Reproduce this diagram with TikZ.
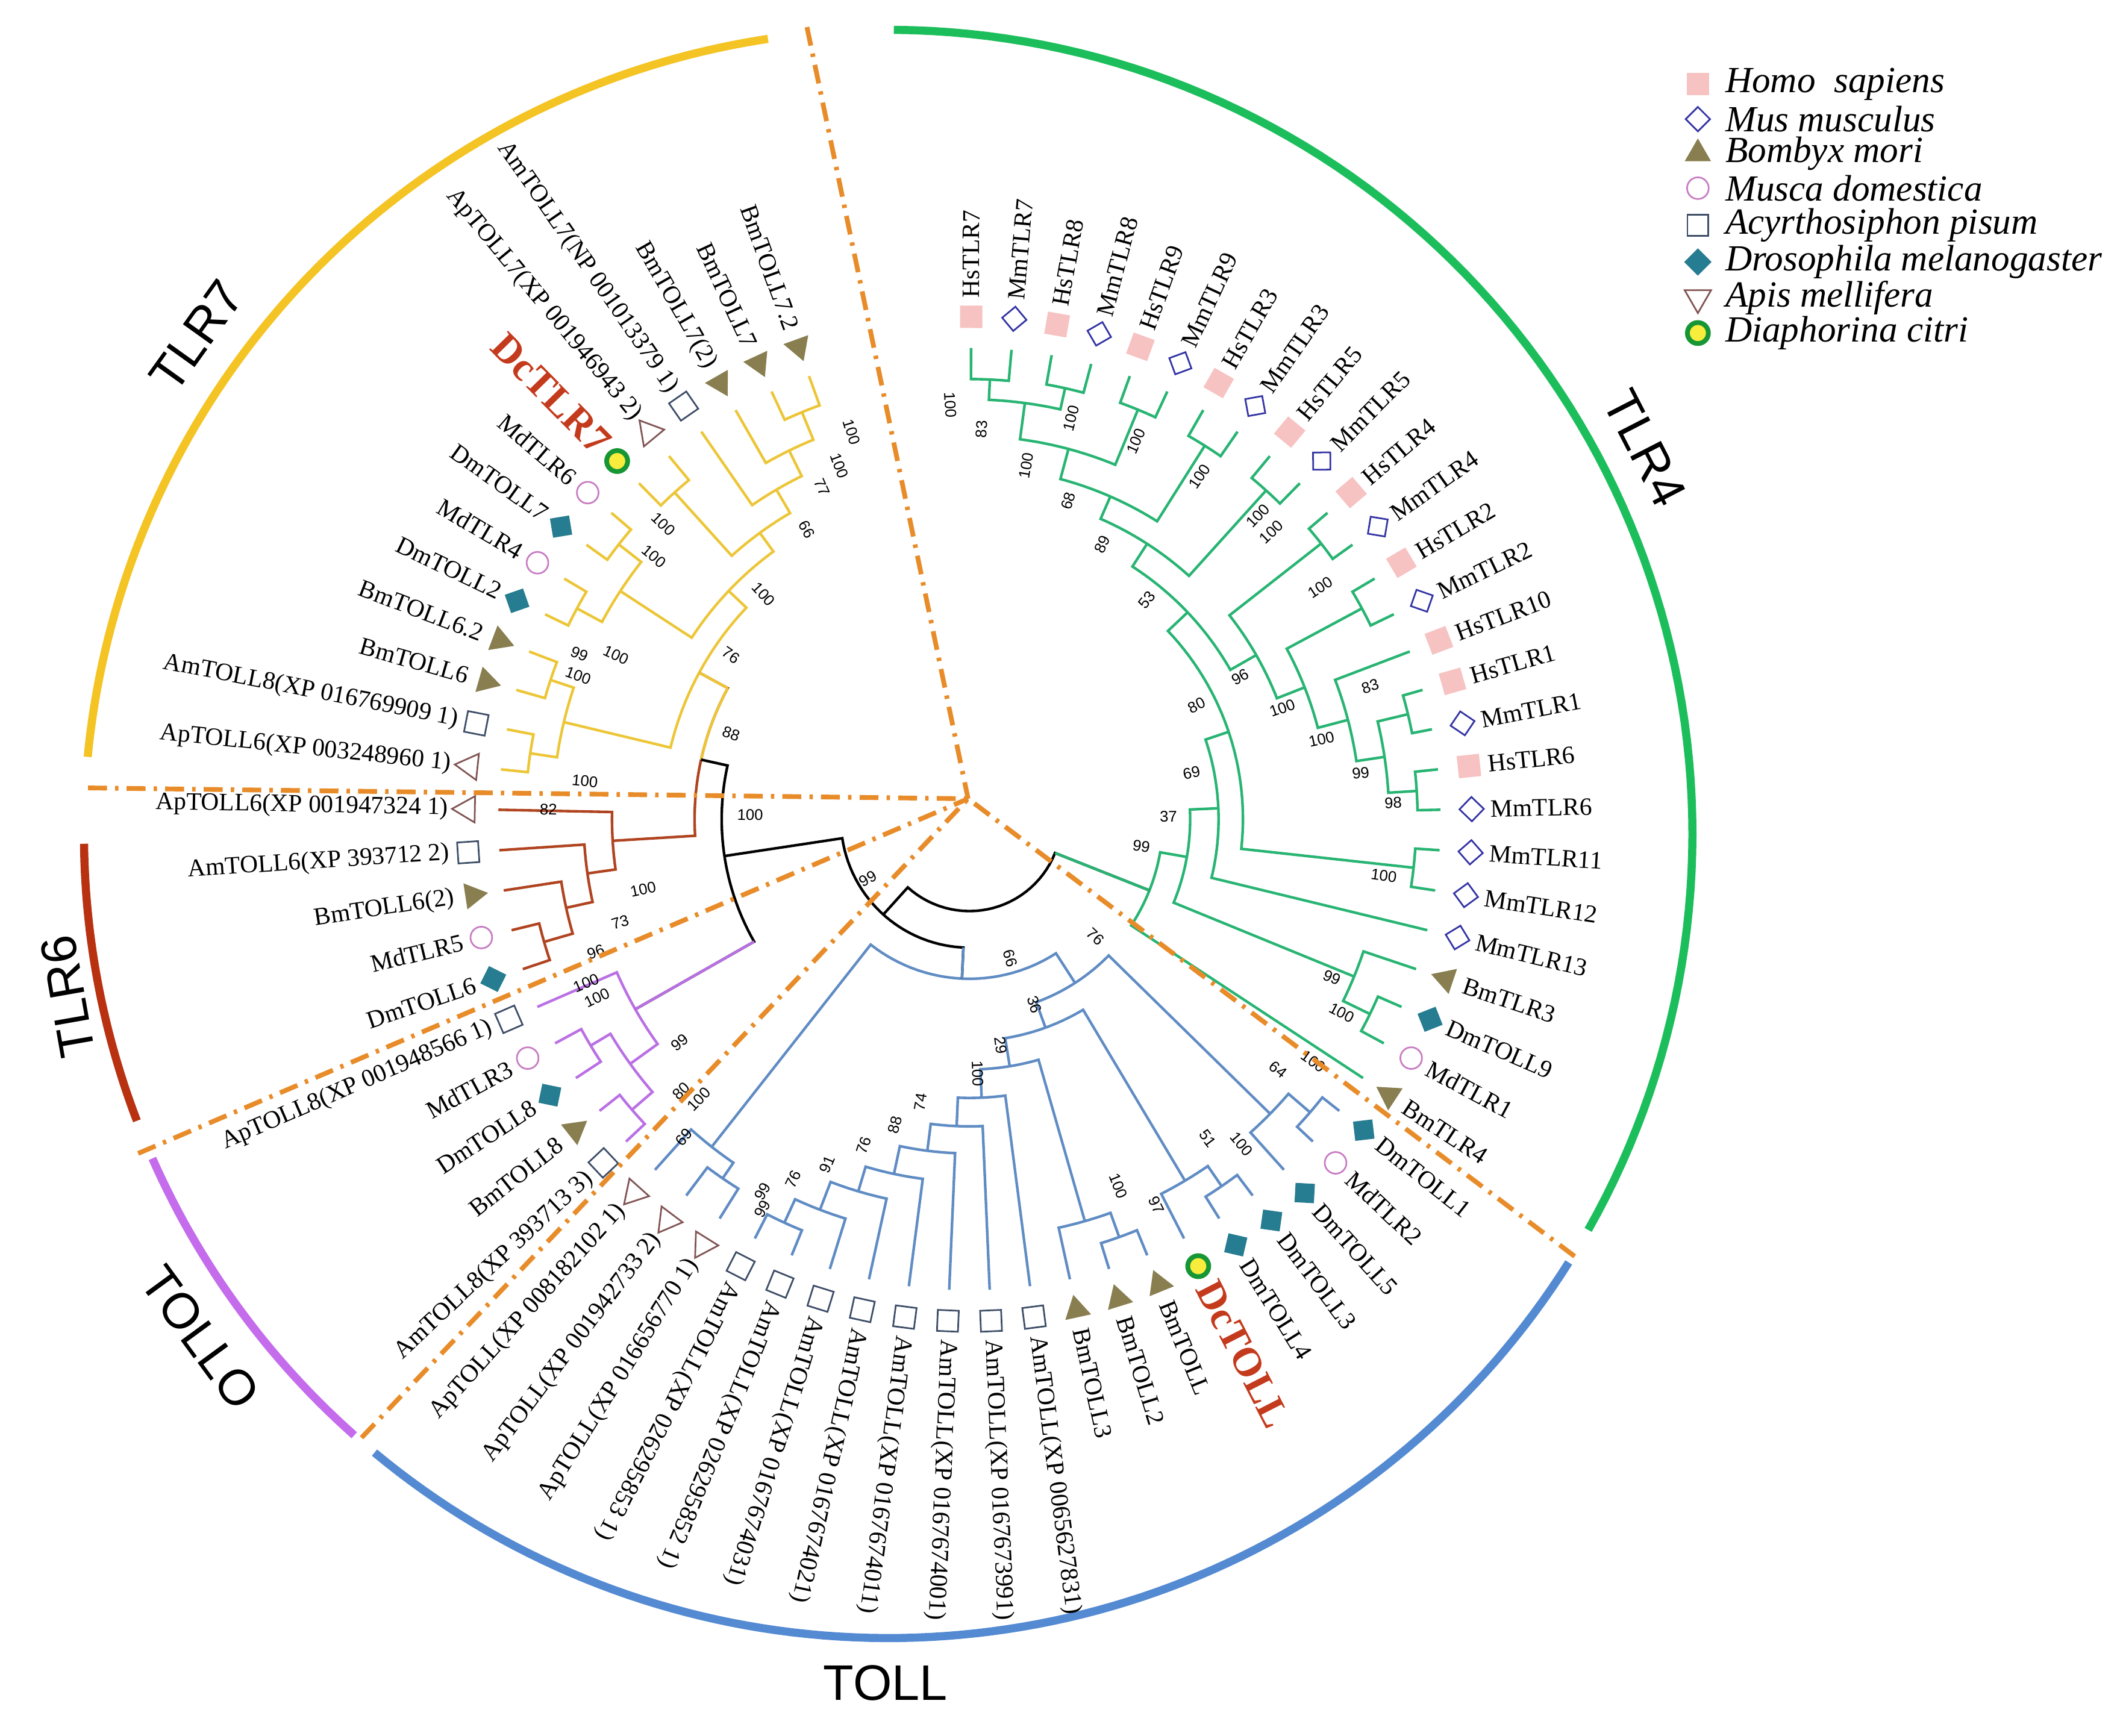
\documentclass[tikz,border=0pt]{standalone}
\usepackage{fontspec}
\setmainfont{Liberation Serif}
\setsansfont{Liberation Sans}
\usetikzlibrary{shapes.geometric}

\definecolor{cGr}{RGB}{40,180,115}
\definecolor{cGrA}{RGB}{28,190,92}
\definecolor{cYe}{RGB}{236,198,55}
\definecolor{cYeA}{RGB}{244,196,36}
\definecolor{cRe}{RGB}{176,68,32}
\definecolor{cReA}{RGB}{184,50,18}
\definecolor{cPu}{RGB}{186,112,228}
\definecolor{cPuA}{RGB}{196,108,236}
\definecolor{cBl}{RGB}{96,140,196}
\definecolor{cBlA}{RGB}{84,138,210}
\definecolor{cDash}{RGB}{232,140,42}
\definecolor{cHs}{RGB}{247,194,194}
\definecolor{cMm}{RGB}{52,52,165}
\definecolor{cBm}{RGB}{136,126,80}
\definecolor{cMd}{RGB}{200,125,195}
\definecolor{cAp}{RGB}{62,78,104}
\definecolor{cDm}{RGB}{38,124,144}
\definecolor{cAm}{RGB}{130,84,84}
\definecolor{cDcF}{RGB}{248,236,60}
\definecolor{cDcR}{RGB}{22,150,52}
\definecolor{cDcT}{RGB}{196,58,28}

\newcounter{bsc}

% leaf: index, symbol style, text, extra label style
\newcommand{\leaf}[4]{%
  \pgfmathsetmacro\lfa{-89.8+(#1-1)*4.926}%
  \pgfmathsetmacro\lfr{90-(\lfa)}%
  \expandafter\xdef\csname trAL#1\endcsname{\lfa}%
  \expandafter\xdef\csname trRL#1\endcsname{348}%
  \node[#2, rotate=\lfr] (s#1) at (\lfa:371) {};
  \ifnum#1<44\relax
    \pgfmathsetmacro\lfr{0-(\lfa)}%
    \node[lab, anchor=west, rotate=\lfr, #4] (t#1) at (\lfa:383) {#3};
  \else
    \pgfmathsetmacro\lfr{180-(\lfa)}%
    \node[lab, anchor=east, rotate=\lfr, #4] (t#1) at (\lfa:383) {#3};
  \fi
}

% internal node: name, radius, child A, child B, colour
\newcommand{\inode}[5]{%
  \edef\ndaA{\csname trA#3\endcsname}%
  \edef\ndaB{\csname trA#4\endcsname}%
  \edef\ndrA{\csname trR#3\endcsname}%
  \edef\ndrB{\csname trR#4\endcsname}%
  \draw[br,#5] (\ndaA:\ndrA) -- (\ndaA:#2) -- plot[domain=\ndaA:\ndaB, samples=30, variable=\vv] ({#2*cos(\vv)},{#2*sin(\vv)}) -- (\ndaB:\ndrB);
  \pgfmathsetmacro\ndm{(\ndaA+\ndaB)/2}%
  \expandafter\xdef\csname trA#1\endcsname{\ndm}%
  \expandafter\xdef\csname trR#1\endcsname{#2}%
  \coordinate (#1) at (\ndm:#2);
}

\newcommand{\stem}[3]{%
  \edef\stma{\csname trA#1\endcsname}%
  \edef\stmr{\csname trR#1\endcsname}%
  \draw[br,#3] (\stma:\stmr) -- (\stma:#2);
}

\newcommand{\bs}[3]{%
  \stepcounter{bsc}%
  \pgfmathsetmacro\bsp{atan2(#2-605,#1-716)}%
  \pgfmathsetmacro\bsr{ifthenelse(abs(\bsp)<90,0-(\bsp),180-(\bsp))}%
  \node[bsl, rotate=\bsr] (bs\arabic{bsc}) at (#1,#2) {#3};
}

\begin{document}
\begin{tikzpicture}[x=0.02cm, y=-0.02cm,
  lab/.style={font=\fontsize{10.5}{12}\selectfont, inner sep=1pt, text=black},
  dclab/.style={font=\bfseries\fontsize{17}{19}\selectfont, text=cDcT},
  bsl/.style={font=\sffamily\fontsize{6.5}{7}\selectfont, inner sep=0pt},
  br/.style={line width=1.1pt, line join=miter},
  outarc/.style={line width=0.12cm},
  dashl/.style={cDash, line width=0.07cm, dash pattern=on 0.28cm off 0.12cm on 0.05cm off 0.12cm},
  symHs/.style={rectangle, fill=cHs, minimum size=0.33cm, inner sep=0pt},
  symMm/.style={diamond, draw=cMm, line width=0.7pt, minimum size=0.37cm, inner sep=0pt},
  symBm/.style={regular polygon, regular polygon sides=3, fill=cBm, minimum size=0.45cm, inner sep=0pt},
  symMd/.style={circle, draw=cMd, line width=0.7pt, minimum size=0.32cm, inner sep=0pt},
  symSq/.style={rectangle, draw=cAp, line width=0.7pt, minimum size=0.31cm, inner sep=0pt},
  symDm/.style={diamond, fill=cDm, minimum size=0.41cm, inner sep=0pt},
  symAp/.style={regular polygon, regular polygon sides=3, shape border rotate=180, draw=cAm, line width=0.7pt, minimum size=0.45cm, inner sep=0pt},
  symDc/.style={circle, fill=cDcF, draw=cDcR, line width=2pt, minimum size=0.31cm, inner sep=0pt},
  legt/.style={font=\itshape\fontsize{15.5}{17}\selectfont, anchor=west, inner sep=0pt},
  cl/.style={font=\sffamily\fontsize{21}{24}\selectfont, inner sep=0pt}
]
\useasboundingbox (0,0) rectangle (1568,1282);
\fill[white] (0,0) rectangle (1568,1282);

% outer clade arcs
\draw[outarc, cGrA] plot[domain=-89.6:29.5, samples=90, variable=\vv] ({656+594*cos(\vv)},{616+594*sin(\vv)});
\draw[outarc, cBlA] plot[domain=32.2:129.7, samples=90, variable=\vv] ({656+594*cos(\vv)},{616+594*sin(\vv)});
\draw[outarc, cPuA] plot[domain=131.6:156.2, samples=30, variable=\vv] ({656+594*cos(\vv)},{616+594*sin(\vv)});
\draw[outarc, cReA] plot[domain=159.1:179.3, samples=30, variable=\vv] ({656+594*cos(\vv)},{616+594*sin(\vv)});
\draw[outarc, cYeA] plot[domain=185.5:261.4, samples=80, variable=\vv] ({656+594*cos(\vv)},{616+594*sin(\vv)});

\begin{scope}[shift={(716,605)}]
% ---------- leaves ----------
\leaf{1}{symHs}{HsTLR7}{}
\leaf{2}{symMm}{MmTLR7}{}
\leaf{3}{symHs}{HsTLR8}{}
\leaf{4}{symMm}{MmTLR8}{}
\leaf{5}{symHs}{HsTLR9}{}
\leaf{6}{symMm}{MmTLR9}{}
\leaf{7}{symHs}{HsTLR3}{}
\leaf{8}{symMm}{MmTLR3}{}
\leaf{9}{symHs}{HsTLR5}{}
\leaf{10}{symMm}{MmTLR5}{}
\leaf{11}{symHs}{HsTLR4}{}
\leaf{12}{symMm}{MmTLR4}{}
\leaf{13}{symHs}{HsTLR2}{}
\leaf{14}{symMm}{MmTLR2}{}
\leaf{15}{symHs}{HsTLR10}{}
\leaf{16}{symHs}{HsTLR1}{}
\leaf{17}{symMm}{MmTLR1}{}
\leaf{18}{symHs}{HsTLR6}{}
\leaf{19}{symMm}{MmTLR6}{}
\leaf{20}{symMm}{MmTLR11}{}
\leaf{21}{symMm}{MmTLR12}{}
\leaf{22}{symMm}{MmTLR13}{}
\leaf{23}{symBm}{BmTLR3}{}
\leaf{24}{symDm}{DmTOLL9}{}
\leaf{25}{symMd}{MdTLR1}{}
\leaf{26}{symBm}{BmTLR4}{}
\leaf{27}{symDm}{DmTOLL1}{}
\leaf{28}{symMd}{MdTLR2}{}
\leaf{29}{symDm}{DmTOLL5}{}
\leaf{30}{symDm}{DmTOLL3}{}
\leaf{31}{symDm}{DmTOLL4}{}
\leaf{32}{symDc}{DcTOLL}{dclab}
\leaf{33}{symBm}{BmTOLL}{}
\leaf{34}{symBm}{BmTOLL2}{}
\leaf{35}{symBm}{BmTOLL3}{}
\leaf{36}{symSq}{AmTOLL(XP 0065627831)}{}
\leaf{37}{symSq}{AmTOLL(XP 0167673991)}{}
\leaf{38}{symSq}{AmTOLL(XP 0167674001)}{}
\leaf{39}{symSq}{AmTOLL(XP 0167674011)}{}
\leaf{40}{symSq}{AmTOLL(XP 0167674021)}{}
\leaf{41}{symSq}{AmTOLL(XP 0167674031)}{}
\leaf{42}{symSq}{AmTOLL(XP 026295852 1)}{}
\leaf{43}{symSq}{AmTOLL(XP 026295853 1)}{}
\leaf{44}{symAp}{ApTOLL(XP 016656770 1)}{}
\leaf{45}{symAp}{ApTOLL(XP 001942733 2)}{}
\leaf{46}{symAp}{ApTOLL(XP 008182102 1)}{}
\leaf{47}{symSq}{AmTOLL8(XP 393713 3)}{}
\leaf{48}{symBm}{BmTOLL8}{}
\leaf{49}{symDm}{DmTOLL8}{}
\leaf{50}{symMd}{MdTLR3}{}
\leaf{51}{symSq}{ApTOLL8(XP 001948566 1)}{}
\leaf{52}{symDm}{DmTOLL6}{}
\leaf{53}{symMd}{MdTLR5}{}
\leaf{54}{symBm}{BmTOLL6(2)}{}
\leaf{55}{symSq}{AmTOLL6(XP 393712 2)}{}
\leaf{56}{symAp}{ApTOLL6(XP 001947324 1)}{}
\leaf{57}{symAp}{ApTOLL6(XP 003248960 1)}{}
\leaf{58}{symSq}{AmTOLL8(XP 016769909 1)}{}
\leaf{59}{symBm}{BmTOLL6}{}
\leaf{60}{symBm}{BmTOLL6.2}{}
\leaf{61}{symDm}{DmTOLL2}{}
\leaf{62}{symMd}{MdTLR4}{}
\leaf{63}{symDm}{DmTOLL7}{}
\leaf{64}{symMd}{MdTLR6}{}
\leaf{65}{symDc}{DcTLR7}{dclab}
\leaf{66}{symAp}{ApTOLL7(XP 001946943 2)}{}
\leaf{67}{symSq}{AmTOLL7(NP 001013379 1)}{}
\leaf{68}{symBm}{BmTOLL7(2)}{}
\leaf{69}{symBm}{BmTOLL7}{}
\leaf{70}{symBm}{BmTOLL7.2}{}

% ---------- TLR4 clade ----------
\inode{N1}{325}{L1}{L2}{cGr}
\inode{N2}{326}{L3}{L4}{cGr}
\inode{N3}{310}{N1}{N2}{cGr}
\inode{N5}{327}{L5}{L6}{cGr}
\inode{N4}{283}{N3}{N5}{cGr}
\inode{N7}{326}{L7}{L8}{cGr}
\inode{N6}{260}{N4}{N7}{cGr}
\inode{N10}{327}{L9}{L10}{cGr}
\inode{N8}{242}{N6}{N10}{cGr}
\inode{N11}{330}{L11}{L12}{cGr}
\inode{N14}{329}{L13}{L14}{cGr}
\inode{N18}{333}{L16}{L17}{cGr}
\inode{N19}{331}{L18}{L19}{cGr}
\inode{N20}{310}{N18}{N19}{cGr}
\inode{N21}{289}{L15}{N20}{cGr}
\inode{N22}{266}{N14}{N21}{cGr}
\inode{N23}{244}{N11}{N22}{cGr}
\inode{N24}{222}{N8}{N23}{cGr}
\inode{N26}{330}{L20}{L21}{cGr}
\inode{N25}{202}{N24}{N26}{cGr}
\inode{N27}{184}{N25}{L22}{cGr}
\inode{N30}{329}{L24}{L25}{cGr}
\inode{N29}{307}{L23}{N30}{cGr}
\inode{N28}{163}{N27}{N29}{cGr}
\inode{N31}{143}{N28}{L26}{cGr}

% ---------- TOLL clade ----------
\inode{BC}{332}{L27}{L28}{cBl}
\inode{BB}{311}{BC}{L29}{cBl}
\inode{BG}{329}{L30}{L31}{cBl}
\inode{BE}{311}{BG}{L32}{cBl}
\inode{BJ}{328}{L33}{L34}{cBl}
\inode{BI}{309}{BJ}{L35}{cBl}
\inode{BP}{328}{L42}{L43}{cBl}
\inode{BO}{309}{L41}{BP}{cBl}
\inode{BN}{287}{L40}{BO}{cBl}
\inode{BM}{268}{L39}{BN}{cBl}
\inode{BL}{247}{L38}{BM}{cBl}
\inode{BK}{227}{L37}{BL}{cBl}
\inode{BH}{206}{L36}{BK}{cBl}
\inode{BD}{185}{BI}{BH}{cBl}
\inode{BA}{164}{BE}{BD}{cBl}
\inode{BR}{144}{BB}{BA}{cBl}
\inode{B2}{322}{L44}{L45}{cBl}
\inode{B1}{308}{B2}{L46}{cBl}
\inode{B0}{118}{BR}{B1}{cBl}

% ---------- TOLLO clade ----------
\inode{P2}{329}{L47}{L48}{cPu}
\inode{P1}{326}{L49}{L50}{cPu}
\inode{P3}{309}{P2}{P1}{cPu}
\inode{P4}{284}{P3}{L51}{cPu}

% ---------- TLR6 clade ----------
\inode{R1}{327}{L52}{L53}{cRe}
\inode{R2}{305}{R1}{L54}{cRe}
\inode{R3}{285}{R2}{L55}{cRe}
\inode{R4}{264}{R3}{L56}{cRe}

% ---------- TLR7 clade ----------
\inode{T12}{328}{L57}{L58}{cYe}
\inode{T11}{326}{L59}{L60}{cYe}
\inode{T13}{308}{T12}{T11}{cYe}
\inode{T8}{329}{L61}{L62}{cYe}
\inode{T6}{329}{L63}{L64}{cYe}
\inode{T7}{308}{T8}{T6}{cYe}
\inode{T4}{325}{L65}{L66}{cYe}
\inode{T1}{325}{L69}{L70}{cYe}
\inode{T2}{303}{L68}{T1}{cYe}
\inode{T3}{282}{L67}{T2}{cYe}
\inode{T5}{262}{T4}{T3}{cYe}
\inode{T9}{245}{T7}{T5}{cYe}
\inode{T10}{227}{T13}{T9}{cYe}

% ---------- deep nodes ----------
\inode{ND}{203}{R4}{T10}{cRe}
\edef\ndA{\csname trAND\endcsname}\edef\ndB{\csname trAT10\endcsname}
\draw[br,cYe] plot[domain=\ndA:\ndB, samples=12, variable=\vv] ({203*cos(\vv)},{203*sin(\vv)});
\stem{T10}{203}{cYe}
\inode{NC}{183}{P4}{ND}{black}
\stem{P4}{183}{cPu}
\inode{NB}{95}{B0}{NC}{black}
\stem{B0}{95}{cBl}
\inode{RT}{68}{N31}{NB}{black}
\stem{N31}{68}{cGr}
\end{scope}

% ---------- bootstrap values ----------
\bs{702}{299}{100}
\bs{725}{317}{83}
\bs{791}{309}{100}
\bs{758}{344}{100}
\bs{789}{370}{68}
\bs{839}{326}{100}
\bs{814}{402}{89}
\bs{847}{443}{53}
\bs{886}{352}{100}
\bs{929}{381}{100}
\bs{939}{393}{100}
\bs{975}{434}{100}
\bs{916}{500}{96}
\bs{884}{521}{80}
\bs{947}{523}{100}
\bs{1012}{507}{83}
\bs{976}{546}{100}
\bs{1005}{571}{99}
\bs{1029}{593}{98}
\bs{880}{571}{69}
\bs{863}{603}{37}
\bs{843}{625}{99}
\bs{1022}{647}{100}
\bs{984}{722}{99}
\bs{991}{748}{100}
\bs{970}{784}{100}
\bs{944}{790}{64}
\bs{892}{841}{51}
\bs{917}{845}{100}
\bs{826}{876}{100}
\bs{854}{890}{97}
\bs{809}{692}{76}
\bs{746}{708}{66}
\bs{764}{742}{36}
\bs{739}{772}{29}
\bs{722}{793}{100}
\bs{680}{814}{74}
\bs{661}{831}{88}
\bs{638}{846}{76}
\bs{611}{860}{91}
\bs{586}{871}{76}
\bs{563}{880}{99}
\bs{563}{893}{99}
\bs{505}{840}{69}
\bs{503}{806}{80}
\bs{516}{812}{100}
\bs{502}{770}{99}
\bs{433}{726}{100}
\bs{441}{737}{100}
\bs{440}{703}{96}
\bs{458}{681}{73}
\bs{475}{657}{100}
\bs{405}{598}{82}
\bs{554}{602}{100}
\bs{641}{649}{99}
\bs{432}{577}{100}
\bs{540}{542}{88}
\bs{540}{484}{76}
\bs{428}{483}{99}
\bs{427}{499}{100}
\bs{455}{484}{100}
\bs{564}{439}{100}
\bs{490}{387}{100}
\bs{483}{411}{100}
\bs{596}{391}{66}
\bs{607}{360}{77}
\bs{620}{344}{100}
\bs{629}{319}{100}

% ---------- dashed separators ----------
\coordinate (hub) at (715,590);
\coordinate (dA) at (596,20);
\coordinate (dB) at (65,582);
\coordinate (dC) at (102,852);
\coordinate (dD) at (267,1062);
\coordinate (dE) at (1163,928);
\draw[dashl] (dA) -- (hub);
\draw[dashl] (dB) -- (hub);
\draw[dashl] (dC) -- (hub);
\draw[dashl] (dD) -- (hub);
\draw[dashl] (dE) -- (hub);

% ---------- clade names ----------
\node[cl, rotate=54.4] (cTLRseven) at (145,248) {TLR7};
\node[cl, rotate=-62.8] (cTLRfour) at (1215,331) {TLR4};
\node[cl, rotate=100] (cTLRsix) at (50,736) {TLR6};
\node[cl, rotate=-53.8] (cTOLLO) at (148,988) {TOLLO};
\node[cl] (cTOLL) at (654,1243) {TOLL};

% ---------- legend ----------
\node[symHs] (g1) at (1254,62) {};
\node[legt] (h1) at (1274,62) {Homo\ \ sapiens};
\node[symMm] (g2) at (1254,88) {};
\node[legt] (h2) at (1274,88) {Mus musculus};
\node[symBm] (g3) at (1254,113.5) {};
\node[legt] (h3) at (1274,113.5) {Bombyx mori};
\node[symMd] (g4) at (1254,139) {};
\node[legt] (h4) at (1274,139) {Musca domestica};
\node[symSq] (g5) at (1254,166.5) {};
\node[legt] (h5) at (1274,166.5) {Acyrthosiphon pisum};
\node[symDm] (g6) at (1254,193.5) {};
\node[legt] (h6) at (1274,193.5) {Drosophila melanogaster};
\node[symAp] (g7) at (1254,220) {};
\node[legt] (h7) at (1274,220) {Apis mellifera};
\node[symDc] (g8) at (1254,246) {};
\node[legt] (h8) at (1274,246) {Diaphorina citri};
\end{tikzpicture}
\end{document}
